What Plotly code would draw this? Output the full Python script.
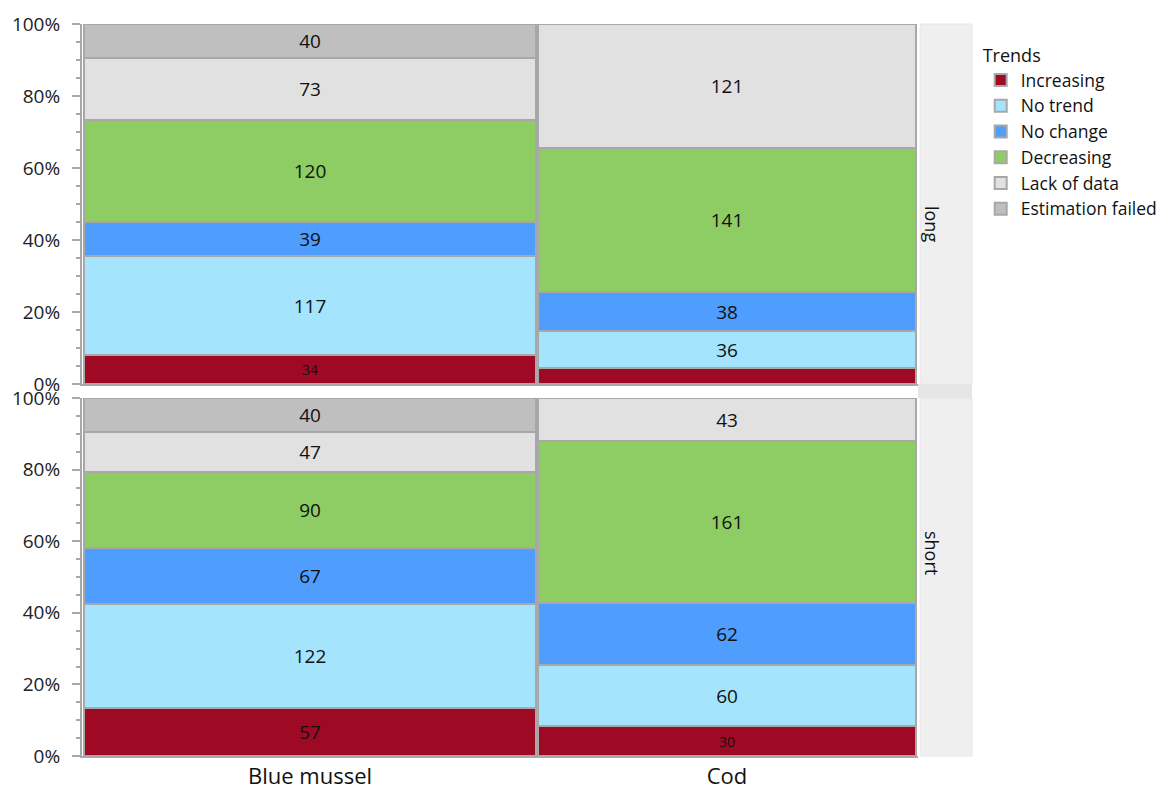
import numpy as np
import plotly.graph_objects as go

species = ["Blue mussel", "Cod"]
periods = ["long", "short"]
categories = ["Increasing", "No trend", "No change", "Decreasing", "Lack of data", "Estimation failed"]
colors = ["#9e0a23", "#a4e4fd", "#4f9dfd", "#8ecd63", "#e1e1e1", "#bfbfbf"]
y_ticks = [0, 20, 40, 60, 80, 100]
y_tick_labels = ["0%", "20%", "40%", "60%", "80%", "100%"]

# counts per category, [Blue mussel, Cod]
long_counts = {
    "Increasing": [34, 16],
    "No trend": [117, 36],
    "No change": [39, 38],
    "Decreasing": [120, 141],
    "Lack of data": [73, 121],
    "Estimation failed": [40, 0],
}
short_counts = {
    "Increasing": [57, 30],
    "No trend": [122, 60],
    "No change": [67, 62],
    "Decreasing": [90, 161],
    "Lack of data": [47, 43],
    "Estimation failed": [40, 0],
}
data = {"long": long_counts, "short": short_counts}

# bar widths proportional to total observations per species (both periods)
tot_long = np.array([sum(long_counts[c][i] for c in categories) for i in range(2)], float)
tot_short = np.array([sum(short_counts[c][i] for c in categories) for i in range(2)], float)
widths = tot_long + tot_short
edges = np.concatenate([[0], np.cumsum(widths)])
centers = (edges[:-1] + edges[1:]) / 2
totals = {"long": tot_long, "short": tot_short}

fig = go.Figure()
FONT = "Open Sans, Noto Sans, sans-serif"

for pi, per in enumerate(periods):
    xa = "x" if pi == 0 else "x2"
    ya = "y" if pi == 0 else "y2"
    for ci, cat in enumerate(categories):
        cnt = np.array(data[per][cat], float)
        share = cnt / totals[per] * 100
        texts = []
        sizes = []
        for v, s in zip(cnt, share):
            if v == 0 or s < 5:
                texts.append("")
                sizes.append(14)
            elif s < 9:
                texts.append(str(int(v)))
                sizes.append(14)
            else:
                texts.append(str(int(v)))
                sizes.append(19)
        fig.add_trace(go.Bar(
            x=centers, y=share, width=widths * 0.997,
            name=cat, legendgroup=cat, showlegend=(pi == 0),
            marker=dict(color=colors[ci], line=dict(color="#a8a8a8", width=2)),
            text=texts, textposition="inside", insidetextanchor="middle",
            textangle=0, constraintext="none",
            textfont=dict(size=sizes, color="#111111", family=FONT),
            xaxis=xa, yaxis=ya, hoverinfo="skip",
        ))

yax = dict(range=[0, 100], tickmode="array", tickvals=y_ticks, ticktext=y_tick_labels,
           ticks="outside", ticklen=8, tickwidth=1.5, tickcolor="#a8a8a8",
           minor=dict(dtick=5, ticks="outside", ticklen=4, tickcolor="#a8a8a8", tickwidth=1.5),
           showgrid=False, zeroline=False, showline=True, linecolor="#a8a8a8", linewidth=2,
           tickfont=dict(size=19, color="#222222", family=FONT), ticklabelstandoff=8)
xax = dict(range=[edges[0] - 2, edges[-1] + 2], tickmode="array", tickvals=list(centers), ticktext=species,
           showgrid=False, zeroline=False, showline=True, linecolor="#a8a8a8", linewidth=2,
           ticks="", tickfont=dict(size=22, color="#111111", family=FONT))

top_dom = [0.508, 1.0]
bot_dom = [0.0, 0.489]

fig.update_layout(
    width=1173, height=785,
    margin=dict(l=82, r=255, t=24, b=29, autoexpand=False),
    paper_bgcolor="white", plot_bgcolor="white",
    barmode="stack", bargap=0,
    font=dict(family=FONT, size=17, color="#111111"),
    xaxis=dict(xax, anchor="y", showticklabels=False, matches="x2"),
    xaxis2=dict(xax, anchor="y2"),
    yaxis=dict(yax, domain=top_dom, anchor="x"),
    yaxis2=dict(yax, domain=bot_dom, anchor="x2"),
    legend=dict(title=dict(text="Trends", font=dict(size=18)), x=1.075, y=0.98,
                xanchor="left", yanchor="top", traceorder="normal",
                font=dict(size=17.5, color="#111111"), tracegroupgap=0, itemwidth=30),
)

# facet strips
sx0, sx1 = 1.0026, 1.0646
for dom, label in [(top_dom, "long"), (bot_dom, "short")]:
    fig.add_shape(type="rect", xref="paper", yref="paper", x0=sx0, x1=sx1,
                  y0=dom[0], y1=dom[1], fillcolor="#efefef", line=dict(color="#e6e6e6", width=1),
                  layer="below")
    fig.add_annotation(text=label, xref="paper", yref="paper", x=(sx0 + sx1) / 2,
                       y=(dom[0] + dom[1]) / 2, showarrow=False, textangle=90,
                       font=dict(size=18, color="#111111", family=FONT))
fig.add_shape(type="rect", xref="paper", yref="paper", x0=1.0, x1=sx1,
              y0=bot_dom[1], y1=top_dom[0], fillcolor="#e6e6e6", line=dict(width=0), layer="below")

fig.write_html("out.html", config={"displayModeBar": False},
               post_script="document.body.style.margin='0';document.body.style.overflow='hidden';")
